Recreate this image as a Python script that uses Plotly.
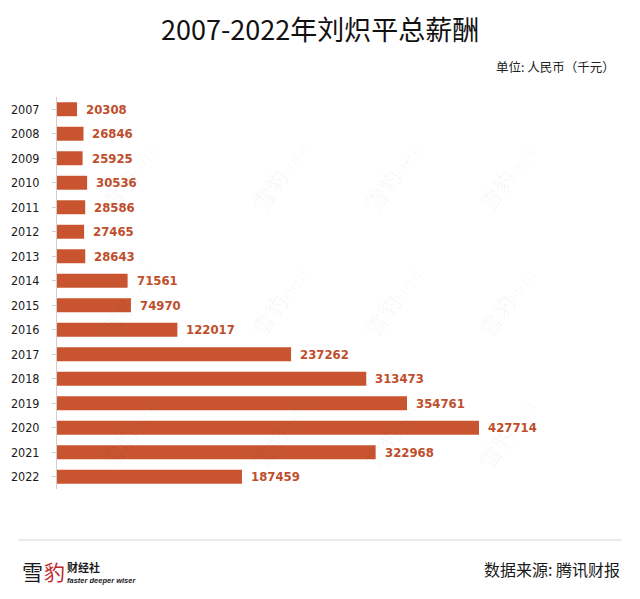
import plotly.graph_objects as go

# data
years = [str(y) for y in range(2007, 2023)]
pay = [20308, 26846, 25925, 30536, 28586, 27465, 28643, 71561,
       74970, 122017, 237262, 313473, 354761, 427714, 322968, 187459]
pay_text = [str(v) for v in pay]

title = "2007-2022年刘炽平总薪酬"
unit_note = "单位: 人民币（千元）"
source_note = "数据来源: 腾讯财报"

BAR = "#C8552F"
LABEL = "#BF4E2C"
CJK = "Noto Sans CJK SC"

# page body has an 8px margin, so shift everything up/left by that
OFF = 8
PL, PT, PW, PH = 57 - OFF, 97 - OFF, 563, 392


def px(x):
    return (x - OFF - PL) / PW


def py(y):
    return (PT + PH - (y - OFF)) / PH


fig = go.Figure()
fig.add_trace(go.Bar(
    x=pay, y=years, orientation="h",
    marker=dict(color=BAR, line=dict(width=0)),
    hoverinfo="skip",
))

fig.update_layout(
    width=640, height=599,
    margin=dict(l=PL, r=640 - PL - PW, t=PT, b=599 - PT - PH),
    paper_bgcolor="white", plot_bgcolor="white",
    showlegend=False,
    bargap=0.43,
    xaxis=dict(range=[0, 570650], visible=False, fixedrange=True, automargin=False),
    yaxis=dict(
        type="category", categoryorder="array", categoryarray=years,
        range=[len(years) - 0.5, -0.5], automargin=False,
        showline=True, linecolor="#CFCFCF", linewidth=1,
        ticks="outside", ticklen=4, tickcolor="#CFCFCF",
        ticklabelstandoff=10,
        tickfont=dict(family="DejaVu Sans Condensed, Noto Sans", size=12.5, color="#1a1a1a"),
        showgrid=False, zeroline=False,
    ),
)

ann = []
# value labels just right of each bar (y given as category index)
for i, (v, t) in enumerate(zip(pay, pay_text)):
    ann.append(dict(
        x=v, y=i, xref="x", yref="y", text=t, showarrow=False,
        xanchor="left", yanchor="middle", xshift=7,
        font=dict(family="DejaVu Sans Condensed, Roboto", size=13, color=LABEL, weight="bold"),
    ))

# faint diagonal watermarks
for wx in [90, 240, 392, 545]:
    for wy in [130, 300, 477]:
        ann.append(dict(
            xref="paper", yref="paper", x=px(wx), y=py(wy),
            text="雪豹<span style='font-size:12px'>财经社</span>",
            showarrow=False, textangle=-55,
            font=dict(family=CJK, size=22, color="rgba(0,0,0,0.04)"),
        ))

ann += [
    dict(xref="paper", yref="paper", x=px(320), y=py(29),
         text=title, showarrow=False, xanchor="center", yanchor="middle",
         font=dict(family=CJK, size=27, color="#111111", weight=400)),
    dict(xref="paper", yref="paper", x=px(617), y=py(66),
         text=unit_note, showarrow=False, xanchor="right", yanchor="middle",
         font=dict(family=CJK, size=12.5, color="#222222", weight=400)),
    dict(xref="paper", yref="paper", x=px(622), y=py(569),
         text=source_note, showarrow=False, xanchor="right", yanchor="middle",
         font=dict(family=CJK, size=16, color="#1a1a1a", weight=400)),
    # logo
    dict(xref="paper", yref="paper", x=px(20), y=py(571),
         text="雪", showarrow=False, xanchor="left", yanchor="middle",
         font=dict(family=CJK, size=21, color="#1a1a1a")),
    dict(xref="paper", yref="paper", x=px(42), y=py(571),
         text="豹", showarrow=False, xanchor="left", yanchor="middle",
         font=dict(family=CJK, size=21, color="#C0272D")),
    dict(xref="paper", yref="paper", x=px(65), y=py(567),
         text="财经社", showarrow=False, xanchor="left", yanchor="middle",
         font=dict(family=CJK, size=11, color="#1a1a1a", weight="bold")),
    dict(xref="paper", yref="paper", x=px(65), y=py(580),
         text="<i>faster deeper wiser</i>", showarrow=False, xanchor="left", yanchor="middle",
         font=dict(family="Liberation Sans", size=7.5, color="#1a1a1a", weight="bold")),
]
fig.update_layout(annotations=ann)

# separator line above the footer
fig.add_shape(type="line", xref="paper", yref="paper",
              x0=px(18), x1=px(622), y0=py(540), y1=py(540),
              line=dict(color="#E3E3E3", width=1.5))

fig.write_html("out.html")
